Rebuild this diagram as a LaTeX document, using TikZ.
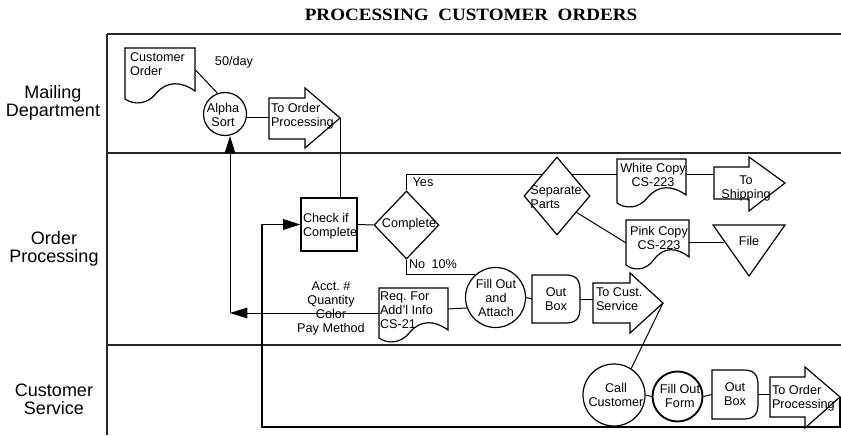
\documentclass[tikz,border=0pt]{standalone}
\usepackage{fontspec}
\setmainfont{Liberation Sans}
\newfontfamily\titlefont{Liberation Serif}
\usepackage{graphicx}
\usetikzlibrary{shapes.geometric, arrows.meta, calc}
\pgfdeclarelayer{bg}
\pgfsetlayers{bg,main}

\tikzset{
 myshape/.style={draw=black, line width=0.9pt, fill=white},
 myconn/.style={draw=black, line width=0.75pt},
 myframe/.style={draw=black!85, line width=1.1pt},
 mybox/.style={inner sep=0pt, outer sep=0pt, draw=none},
 mytxt/.style={inner sep=0pt, outer sep=0pt, font=\fontsize{9.5}{10.5}\selectfont, align=center},
 mytxtl/.style={mytxt, align=left},
 mylane/.style={inner sep=0pt, font=\fontsize{13.5}{13.5}\selectfont, align=center},
 myarr/.style={-{Triangle[length=13pt,width=8pt]}},
}

% document shape: name L T R B (B = bottom of right side)
\newcommand\DocShape[5]{%
 \draw[myshape] (#2,#3) -- (#4,#3) -- (#4,#5)
   .. controls ({#2+0.8*(#4-#2)},{#5-10}) and ({#2+0.6*(#4-#2)},{#5-10}) .. ({#2+0.45*(#4-#2)},{#5+2})
   .. controls ({#2+0.32*(#4-#2)},{#5+14}) and ({#2+0.12*(#4-#2)},{#5+14}) .. (#2,{#5+8}) -- cycle;
 \node[mybox, minimum width={(#4-#2)*0.75pt}, minimum height={(#5-#3)*0.75pt}] (#1) at ({(#2+#4)/2},{(#3+#5)/2}) {};
}
% block arrow: name L T B H HT HB X Y
\newcommand\BArrow[9]{%
 \draw[myshape] (#2,#3) -- (#5,#3) -- (#5,#6) -- (#8,#9) -- (#5,#7) -- (#5,#4) -- (#2,#4) -- cycle;
 \node[mybox, minimum width={(#5-#2)*0.75pt}, minimum height={(#4-#3)*0.75pt}] (#1) at ({(#2+#5)/2},{(#3+#4)/2}) {};
 \coordinate (#1tip) at (#8,#9);
}
% out box (delay): name L T R B text
\newcommand\OutBox[6]{%
 \draw[myshape] (#2,#3) -- ({#4-14},#3) .. controls ({#4-2},#3) and (#4,{#3+7}) .. (#4,{#3+16})
   -- (#4,{#5-16}) .. controls (#4,{#5-7}) and ({#4-2},#5) .. ({#4-14},#5) -- (#2,#5) -- cycle;
 \node[mybox, mytxt, minimum width={(#4-#2)*0.75pt}, minimum height={(#5-#3)*0.75pt}] (#1) at ({(#2+#4)/2},{(#3+#5)/2}) {#6};
}

\begin{document}
\begin{tikzpicture}[x=0.75pt,y=-0.75pt]
\useasboundingbox (0,0) rectangle (841,435);

% title and lane labels
\node[inner sep=0pt, font=\titlefont\bfseries\fontsize{13}{15}\selectfont] (title) at (471,15) {\scalebox{1.1}[1]{PROCESSING\ \ CUSTOMER\ \ ORDERS}};
\node[mylane] (lmail) at (53,103) {Mailing\\Department};
\node[mylane] (lord) at (54,249) {Order\\Processing};
\node[mylane] (lcs) at (54,399) {Customer\\Service};

% ---- Mailing Department
\DocShape{co}{125}{48}{195}{91}
\node[mytxtl, anchor=north west] (cot) at (130,53) {Customer\\Order};
\node[mytxt] (day) at (234,62) {50/day};
\node[circle, myshape, minimum size={43*0.75pt}, inner sep=0pt] (alpha) at (225,114) {};
\node[mytxt] (alphat) at (223,115) {Alpha\\Sort};
\BArrow{ar1}{269}{98}{139}{305}{88}{148}{340}{118}
\node[mytxtl, anchor=north west] (ar1t) at (271,103) {To Order\\Processing};

% ---- Order Processing
\node[rectangle, myshape, minimum width={56*0.75pt}, minimum height={53*0.75pt}, inner sep=0pt] (chk) at (329,224.5) {};
\node[mytxtl, anchor=north west] (chkt) at (303,213) {Check if\\Complete};
\node[diamond, myshape, minimum width={65*0.75pt}, minimum height={68*0.75pt}, inner sep=0pt] (comp) at (406.5,225) {};
\node[mytxt] (compt) at (409,224) {Complete};
\node[mytxt] (yes) at (423,182) {Yes};
\node[mytxt] (no) at (433,264) {No\enspace 10\%};

\node[diamond, myshape, minimum width={66*0.75pt}, minimum height={78*0.75pt}, inner sep=0pt] (sep) at (557,196) {};
\node[mytxtl] (sept) at (556,197) {Separate\\Parts};
\DocShape{wc}{617}{159}{686}{195}
\node[mytxt] (wct) at (653,175) {White Copy\\CS-223};
\BArrow{ship}{714}{167}{199}{749}{157}{211}{785}{183}
\node[mytxt] (shipt) at (746,188) {To\\Shipping};
\DocShape{pk}{626}{220}{689}{257}
\node[mytxt] (pkt) at (659,238) {Pink Copy\\CS-223};
\draw[myshape] (713,225) -- (785,225) -- (749,276) -- cycle;
\node[mytxt] (file) at (749,241) {File};
\coordinate (fileL) at (724,242);

\node[circle, myshape, minimum size={60*0.75pt}, inner sep=0pt] (fa) at (495.5,297.5) {};
\node[mytxt] (fat) at (496,298) {Fill Out\\and\\Attach};
\DocShape{req}{379}{288}{448}{330}
\node[mytxtl, anchor=north west] (reqt) at (380,292) {Req.\ For\\Add'l Info\\CS-21};
\node[mytxt] (acct) at (331,308.5) {Acct.\ \#\\Quantity\\Color\\Pay Method};
\OutBox{ob1}{532}{275}{580}{323}{Out\\Box}
\BArrow{ar3}{593}{283}{323}{630}{273}{333}{663}{303}
\node[mytxtl, anchor=north west] (ar3t) at (596,288) {To Cust.\\Service};

% ---- Customer Service
\node[circle, myshape, minimum size={62*0.75pt}, inner sep=0pt] (cc) at (614,395) {};
\node[mytxt] (cct) at (616,395) {Call\\Customer};
\node[circle, myshape, line width=1.4pt, minimum size={50*0.75pt}, inner sep=0pt] (fof) at (677.5,396.5) {};
\node[mytxt] (foft) at (680,396) {Fill Out\\Form};
\OutBox{ob2}{712}{370}{758}{419}{Out\\Box}
\BArrow{ar4}{770}{377}{417}{805}{367}{428}{840}{397}
\node[mytxtl, anchor=north west] (ar4t) at (772,385) {To Order\\Processing};

\coordinate (yc) at (406.5,174);
\coordinate (c1) at (230,313);
\coordinate (lb) at (262,427);

\begin{pgfonlayer}{bg}
 % lanes
 \draw[myframe] (107,34) -- (841,34);
 \draw[myframe] (107,34) -- (107,435);
 \draw[myframe] (107,153) -- (841,153);
 \draw[myframe] (107,345) -- (841,345);
 % connectors
 \draw[myconn] (co.east) -- (alpha.110);
 \draw[myconn] (alpha.-8) -- (alpha.-8 -| ar1.west);
 \draw[myconn] (ar1tip) -- (ar1tip |- chk.north);
 \draw[myconn] (chk.east) -- (comp.west);
 \draw[myconn] (comp.north) -- (yc) -- (yc -| wc.west);
 \draw[myconn] (yc -| wc.east) -- (yc -| ship.west);
 \draw[myconn] (sep.-40) -- (pk.188);
 \draw[myconn] (pk.east |- fileL) -- (fileL);
 \draw[myconn] (comp.south) |- (fa.131);
 \draw[myconn] (req.east) -- (fa.200);
 \draw[myconn, myarr] (req.west |- c1) -- (c1);
 \draw[myconn, myarr] (c1) -- (c1 |- alpha.south);
 \draw[myconn] (fa.east) -- (ob1.west);
 \draw[myconn] (ob1.east) -- (ob1.east -| ar3.west);
 \draw[myconn] (ar3tip) -- (cc.57);
 \draw[myconn] (cc.east) -- (fof.west);
 \draw[myconn] (fof.east) -- (ob2.west);
 \draw[myconn] (ob2.east) -- (ob2.east -| ar4.west);
 \draw[myconn, line width=1pt, myarr] (ar4tip) |- (lb) |- (chk.west);
\end{pgfonlayer}
\end{tikzpicture}
\end{document}
